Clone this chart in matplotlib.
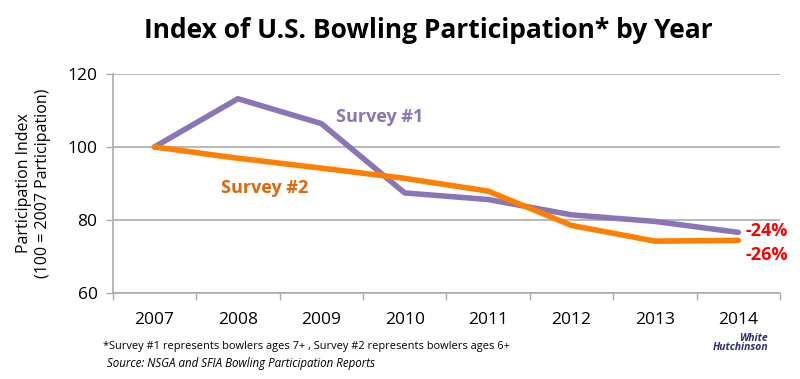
import matplotlib.pyplot as plt

years = ["2007", "2008", "2009", "2010", "2011", "2012", "2013", "2014"]
survey1 = [100, 113.2, 106.4, 87.4, 85.6, 81.4, 79.6, 76.6]
survey2 = [100, 96.9, 94.2, 91.4, 87.9, 78.5, 74.2, 74.4]
yticks = [60, 80, 100, 120]

purple = "#8B75B6"
orange = "#FF8000"
grid_c = "#ABABAB"

plt.rcParams['font.family'] = ['Open Sans', 'DejaVu Sans']

fig = plt.figure(figsize=(8, 3.79), dpi=100)
ax = fig.add_axes([0.141, 0.227, 0.834, 0.578])

x = list(range(len(years)))
ax.plot(x, survey1, color=purple, linewidth=4, solid_capstyle='round', zorder=3)
ax.plot(x, survey2, color=orange, linewidth=4, solid_capstyle='round', zorder=3)

ax.set_xlim(-0.5, len(years) - 0.5)
ax.set_ylim(60, 120)
ax.set_yticks(yticks)
ax.set_xticks(x)
ax.set_xticklabels(years)
ax.set_xticks([i - 0.5 for i in range(len(years) + 1)], minor=True)
ax.tick_params(axis='x', which='major', length=0, pad=14, labelsize=12.5)
ax.tick_params(axis='x', which='minor', length=5, color=grid_c, width=1)
ax.tick_params(axis='y', length=5, color=grid_c, width=1, labelsize=12.5, pad=6)
ax.yaxis.grid(True, color=grid_c, linewidth=1.2)
ax.set_axisbelow(True)
for s in ['top', 'right']:
    ax.spines[s].set_visible(False)
for s in ['left', 'bottom']:
    ax.spines[s].set_color(grid_c)
    ax.spines[s].set_linewidth(1.2)

ax.set_ylabel("Participation Index\n(100 = 2007 Participation)", fontsize=11.5, labelpad=12)

ax.text(2.18, 108.2, "Survey #1", color=purple, fontsize=13, fontweight='bold', va='center')
ax.text(0.80, 88.8, "Survey #2", color="#E0650A", fontsize=13, fontweight='bold', va='center')
ax.text(7.09, 77.0, "-24%", color="#FF0000", fontsize=13, fontweight='bold', va='center')
ax.text(7.09, 70.5, "-26%", color="#FF0000", fontsize=13, fontweight='bold', va='center')

fig.text(0.536, 0.92, "Index of U.S. Bowling Participation* by Year", ha='center', va='center',
         fontsize=19, fontweight='bold')
fig.text(0.129, 0.085, "*Survey #1 represents bowlers ages 7+ , Survey #2 represents bowlers ages 6+",
         fontsize=7.9, va='center')
fig.text(0.134, 0.04, "Source: NSGA and SFIA Bowling Participation Reports",
         fontsize=8.3, style='italic', va='center')
fig.text(0.96, 0.095, "White\nHutchinson", color="#2B2F6E", fontsize=7.5, style='italic',
         fontweight='bold', ha='right', va='center', linespacing=0.8)

fig.savefig("out.png", dpi=100)
